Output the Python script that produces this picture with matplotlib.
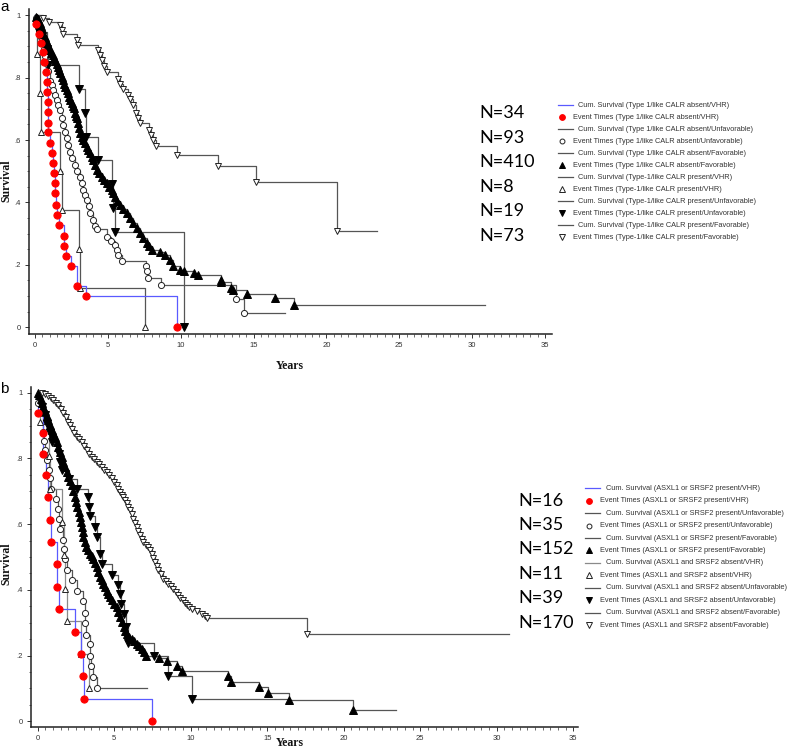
import matplotlib
matplotlib.use("Agg")
import matplotlib.pyplot as plt
from matplotlib.ticker import MultipleLocator, FuncFormatter

# ---------------- data ----------------
# panel a: Type 1/like CALR groups
a_groups = ["Type 1/like CALR absent/VHR", "Type 1/like CALR absent/Unfavorable",
            "Type 1/like CALR absent/Favorable", "Type-1/like CALR present/VHR",
            "Type-1/like CALR present/Unfavorable", "Type-1/like CALR present/Favorable"]
a_n = [34, 93, 410, 8, 19, 73]

a1_t = [0.07, 0.27, 0.43, 0.53, 0.59, 0.73, 0.80, 0.85, 0.87, 0.92, 0.92, 0.92, 1.01, 1.14,
        1.21, 1.30, 1.37, 1.37, 1.46, 1.53, 1.67, 2.01, 2.01, 2.15, 2.47, 2.88, 3.50, 9.73]
a1_s = [0.971, 0.941, 0.912, 0.883, 0.851, 0.819, 0.786, 0.755, 0.721, 0.689, 0.656, 0.625,
        0.592, 0.558, 0.526, 0.494, 0.462, 0.430, 0.392, 0.360, 0.327, 0.294, 0.262, 0.229,
        0.197, 0.133, 0.100, 0.0]
a1_end = 9.73

a2_t = [0.05, 0.15, 0.30, 0.40, 0.53, 0.60, 0.70, 0.80, 0.90, 1.03,
        1.15, 1.26, 1.38, 1.49, 1.60, 1.72, 1.83, 1.95, 2.06, 2.17,
        2.28, 2.40, 2.55, 2.75, 2.90, 3.09, 3.20, 3.32, 3.45, 3.55,
        3.68, 3.78, 3.95, 4.12, 4.23, 4.97, 5.20, 5.49, 5.60, 5.72,
        6.00, 7.60, 7.67, 7.78, 8.65, 13.78, 14.35]
a2_s = [0.990, 0.970, 0.950, 0.930, 0.910, 0.890, 0.870, 0.845, 0.820, 0.790,
        0.775, 0.760, 0.745, 0.728, 0.712, 0.696, 0.672, 0.648, 0.627, 0.606,
        0.585, 0.563, 0.541, 0.520, 0.500, 0.483, 0.462, 0.440, 0.424, 0.408,
        0.387, 0.366, 0.345, 0.323, 0.315, 0.289, 0.276, 0.264, 0.248, 0.232,
        0.211, 0.195, 0.179, 0.158, 0.136, 0.091, 0.046]
a2_end = 17.16

a3_t = [0.05, 0.12, 0.18, 0.23, 0.32, 0.40, 0.48, 0.57, 0.66, 0.75,
        0.85, 0.94, 1.03, 1.12, 1.22, 1.31, 1.40, 1.49, 1.58, 1.66,
        1.75, 1.83, 1.92, 2.00, 2.09, 2.17, 2.26, 2.35, 2.43, 2.52,
        2.60, 2.68, 2.75, 2.82, 2.90, 2.97, 3.03, 3.09, 3.20, 3.32,
        3.44, 3.55, 3.66, 3.78, 3.89, 4.00, 4.12, 4.23, 4.40, 4.58,
        4.75, 4.92, 5.09, 5.26, 5.38, 5.49, 5.66, 5.84, 6.06, 6.29,
        6.52, 6.75, 6.98, 7.21, 7.44, 7.67, 7.84, 8.00,
        8.58, 8.92, 9.27, 9.49, 9.95, 10.23, 10.94, 11.21, 12.77, 12.80,
        13.45, 13.61, 14.57, 16.47, 17.78]
a3_s = [0.995, 0.990, 0.987, 0.984, 0.975, 0.966, 0.955, 0.941, 0.930, 0.920,
        0.910, 0.899, 0.888, 0.879, 0.871, 0.862, 0.853, 0.845, 0.835, 0.824,
        0.814, 0.803, 0.792, 0.781, 0.771, 0.760, 0.749, 0.738, 0.728, 0.717,
        0.709, 0.701, 0.686, 0.678, 0.670, 0.654, 0.638, 0.622, 0.611, 0.600,
        0.590, 0.579, 0.568, 0.558, 0.547, 0.536, 0.520, 0.504, 0.494, 0.483,
        0.472, 0.462, 0.451, 0.440, 0.430, 0.419, 0.406, 0.392, 0.379, 0.366,
        0.350, 0.334, 0.318, 0.302, 0.286, 0.270, 0.259, 0.248,
        0.241, 0.232, 0.216, 0.195, 0.185, 0.179, 0.174, 0.166, 0.152, 0.146,
        0.126, 0.121, 0.108, 0.095, 0.073]
a3_end = 30.9

a4_t = [0.11, 0.34, 0.39, 1.72, 1.83, 3.04, 3.09, 7.55]
a4_s = [0.875, 0.750, 0.625, 0.500, 0.375, 0.250, 0.125, 0.0]
a4_end = 7.55

a5_t = [0.25, 0.80, 0.92, 3.02, 3.43, 3.48, 4.35, 5.26, 5.38, 5.49, 10.20]
a5_s = [0.947, 0.893, 0.840, 0.762, 0.688, 0.611, 0.535, 0.458, 0.382, 0.306, 0.0]
a5_end = 10.20

a6_t = [0.55, 0.98, 1.72, 1.83, 1.95, 2.86, 2.97, 4.35, 4.46, 4.58,
        4.75, 4.92, 5.72, 5.84, 6.02, 6.41, 6.52, 6.75, 6.93, 7.09,
        7.21, 7.83, 7.94, 8.12, 8.28, 9.73, 12.59, 15.17, 20.71]
a6_s = [0.990, 0.979, 0.968, 0.952, 0.941, 0.920, 0.904, 0.888, 0.872, 0.856,
        0.838, 0.819, 0.797, 0.781, 0.765, 0.744, 0.730, 0.712, 0.686, 0.670,
        0.654, 0.632, 0.616, 0.600, 0.582, 0.552, 0.517, 0.467, 0.310]
a6_end = 23.5

# panel b: ASXL1 / SRSF2 groups
b_groups = ["ASXL1 or SRSF2 present/VHR", "ASXL1 or SRSF2 present/Unfavorable",
            "ASXL1 or SRSF2 present/Favorable", "ASXL1 and SRSF2 absent/VHR",
            "ASXL1 and SRSF2 absent/Unfavorable", "ASXL1 and SRSF2 absent/Favorable"]
b_n = [16, 35, 152, 11, 39, 170]

b1_t = [0.04, 0.37, 0.37, 0.54, 0.70, 0.81, 0.85, 1.24, 1.29, 1.39, 2.44, 2.81, 2.98, 3.05, 7.49]
b1_s = [0.939, 0.876, 0.813, 0.749, 0.683, 0.614, 0.546, 0.480, 0.409, 0.342, 0.271, 0.205,
        0.137, 0.068, 0.0]
b1_end = 7.49

b2_t = [0.02, 0.26, 0.37, 0.41, 0.48, 0.59, 0.76, 0.81, 0.87, 1.18,
        1.31, 1.42, 1.46, 1.68, 1.74, 1.79, 1.90, 2.22, 2.59, 2.98,
        3.09, 3.10, 3.14, 3.40, 3.42, 3.45, 3.64, 3.86]
b2_s = [0.970, 0.937, 0.881, 0.854, 0.825, 0.795, 0.766, 0.739, 0.708, 0.678,
        0.647, 0.617, 0.586, 0.553, 0.525, 0.495, 0.461, 0.431, 0.398, 0.366,
        0.330, 0.300, 0.264, 0.234, 0.198, 0.167, 0.134, 0.101]
b2_end = 7.12

b3_t = [0.05, 0.11, 0.20, 0.28, 0.37, 0.48, 0.59, 0.70, 0.81, 0.92,
        1.02, 1.13, 1.24, 1.35, 1.46, 1.57, 1.68, 1.79, 1.90, 2.00,
        2.11, 2.22, 2.33, 2.44, 2.52, 2.59, 2.68, 2.77, 2.83, 2.88,
        2.93, 2.98, 3.07, 3.16, 3.29, 3.42, 3.53, 3.64, 3.75, 3.86,
        3.97, 4.07, 4.18, 4.29, 4.40, 4.51, 4.62, 4.73, 4.84, 5.00,
        5.16, 5.27, 5.38, 5.51, 5.64, 5.73, 5.82, 5.98, 6.14, 6.30,
        6.47, 6.63, 6.80, 6.93, 7.06,
        7.95, 8.43, 9.08, 9.41, 12.46, 12.64, 14.49, 15.08, 16.45, 20.63]
b3_s = [0.998, 0.993, 0.981, 0.969, 0.957, 0.944, 0.930, 0.917, 0.901, 0.886,
        0.876, 0.866, 0.851, 0.835, 0.820, 0.805, 0.790, 0.774, 0.759, 0.744,
        0.731, 0.718, 0.700, 0.683, 0.668, 0.652, 0.637, 0.622, 0.606, 0.591,
        0.576, 0.561, 0.545, 0.530, 0.520, 0.510, 0.503, 0.495, 0.482, 0.470,
        0.454, 0.439, 0.429, 0.419, 0.408, 0.398, 0.388, 0.378, 0.368, 0.358,
        0.348, 0.332, 0.317, 0.302, 0.287, 0.276, 0.266, 0.258, 0.251, 0.243,
        0.236, 0.228, 0.221, 0.210, 0.200,
        0.193, 0.182, 0.167, 0.154, 0.139, 0.119, 0.104, 0.086, 0.065, 0.033]
b3_end = 23.4

b4_t = [0.15, 0.76, 0.81, 1.57, 1.74, 1.79, 1.90, 2.83, 3.38]
b4_s = [0.912, 0.807, 0.708, 0.607, 0.505, 0.403, 0.305, 0.205, 0.102]
b4_end = 3.38

b5_t = [0.26, 0.48, 0.59, 0.81, 0.92, 1.42, 1.46, 1.57, 2.05, 2.55,
        3.31, 3.38, 3.42, 3.75, 3.86, 4.07, 4.18, 4.88, 5.27, 5.38,
        5.45, 5.64, 5.77, 5.88, 7.63, 8.54, 10.10]
b5_s = [0.957, 0.932, 0.906, 0.876, 0.851, 0.815, 0.790, 0.766, 0.737, 0.708,
        0.683, 0.652, 0.624, 0.591, 0.561, 0.510, 0.480, 0.444, 0.414, 0.386,
        0.358, 0.327, 0.287, 0.238, 0.200, 0.137, 0.068]
b5_end = 16.5

b6_t = [0.30, 0.50, 0.70, 0.86, 1.02, 1.18, 1.35, 1.52, 1.68, 1.84,
        2.00, 2.11, 2.22, 2.38, 2.55, 2.72, 2.88, 3.04, 3.20, 3.36,
        3.53, 3.70, 3.86, 4.02, 4.18, 4.34, 4.51, 4.68, 4.84, 5.00,
        5.16, 5.27, 5.38, 5.49, 5.60, 5.71, 5.82, 5.93, 6.03, 6.14,
        6.25, 6.36, 6.47, 6.58, 6.69, 6.80, 6.91, 7.07, 7.23, 7.34,
        7.45, 7.56, 7.67, 7.78, 7.89, 8.05, 8.21, 8.37, 8.54, 8.70,
        8.87, 9.03, 9.19, 9.33, 9.48, 9.61, 9.74, 9.90, 10.07, 10.40,
        10.72, 10.90, 11.09, 17.63]
b6_s = [0.998, 0.996, 0.990, 0.984, 0.978, 0.970, 0.962, 0.950, 0.937, 0.925,
        0.912, 0.902, 0.891, 0.878, 0.866, 0.858, 0.851, 0.838, 0.825, 0.815,
        0.805, 0.797, 0.790, 0.782, 0.774, 0.766, 0.759, 0.749, 0.739, 0.728,
        0.718, 0.708, 0.698, 0.690, 0.683, 0.673, 0.663, 0.652, 0.642, 0.630,
        0.617, 0.604, 0.591, 0.579, 0.566, 0.556, 0.546, 0.538, 0.530, 0.520,
        0.510, 0.497, 0.485, 0.472, 0.459, 0.447, 0.434, 0.427, 0.419, 0.411,
        0.403, 0.393, 0.383, 0.375, 0.368, 0.360, 0.353, 0.348, 0.342, 0.335,
        0.327, 0.321, 0.315, 0.266]
b6_end = 30.8

# ---------------- styles ----------------
BLUE = "#5a5aff"
LINE = "#555555"
# (line colour, marker, face colour, edge colour, marker size)
styles_a = [(BLUE, "o", "#ff0000", "#ff0000", 5.2),
            (LINE, "o", "white", "#222222", 4.4),
            (LINE, "^", "black", "black", 5.2),
            (LINE, "^", "white", "#222222", 5.0),
            (LINE, "v", "black", "black", 5.2),
            (LINE, "v", "white", "#222222", 5.0)]
styles_b = [(BLUE, "o", "#ff0000", "#ff0000", 5.2),
            (LINE, "o", "white", "#222222", 4.4),
            (LINE, "^", "black", "black", 5.2),
            ("#8a8a8a", "^", "white", "#222222", 5.0),
            (LINE, "v", "black", "black", 5.2),
            (LINE, "v", "white", "#222222", 5.0)]

W, H = 799, 748
fig = plt.figure(figsize=(W / 100, H / 100), dpi=100)


def px_axes(left, top, right, bottom):
    return fig.add_axes([left / W, 1 - bottom / H, (right - left) / W, (bottom - top) / H])


def km(ax, t, s, end, style, z):
    color, marker, fc, ec, ms = style
    x = [0] + list(t) + [end]
    y = [1] + list(s) + [s[-1]]
    ax.plot(x, y, drawstyle="steps-post", color=color, lw=0.9, zorder=z)
    ax.plot(t, s, ls="none", marker=marker, mfc=fc, mec=ec, ms=ms, mew=0.7, zorder=z + 10)


def style_axes(ax, xlim, ylim):
    ax.set_xlim(*xlim)
    ax.set_ylim(*ylim)
    for sp in ["top", "right"]:
        ax.spines[sp].set_visible(False)
    for sp in ["left", "bottom"]:
        ax.spines[sp].set_linewidth(1.1)
        ax.spines[sp].set_color("#222222")
    ax.xaxis.set_major_locator(MultipleLocator(5))
    ax.xaxis.set_minor_locator(MultipleLocator(0.5))
    ax.yaxis.set_major_locator(MultipleLocator(0.2))
    ax.yaxis.set_minor_locator(MultipleLocator(0.05))
    ax.yaxis.set_major_formatter(FuncFormatter(
        lambda v, p: "0" if abs(v) < 1e-9 else ("1" if abs(v - 1) < 1e-9 else ("%.1f" % v)[1:])))
    ax.tick_params(which="major", length=3, width=0.7, direction="out", pad=3,
                   labelsize=5.5, labelcolor="#333333", color="#333333")
    ax.tick_params(which="minor", length=1.8, width=0.5, direction="out", color="#333333")
    for lab in ax.get_xticklabels() + ax.get_yticklabels():
        lab.set_family("Liberation Sans")


ax_a = px_axes(29, 8.75, 551.7, 333.7)
ax_b = px_axes(31, 387.3, 578.3, 726.7)
style_axes(ax_a, (-0.41, 35.46), (-0.0205, 1.0205))
style_axes(ax_b, (-0.44, 35.33), (-0.0165, 1.0165))

a_data = [(a1_t, a1_s, a1_end), (a2_t, a2_s, a2_end), (a3_t, a3_s, a3_end),
          (a4_t, a4_s, a4_end), (a5_t, a5_s, a5_end), (a6_t, a6_s, a6_end)]
b_data = [(b1_t, b1_s, b1_end), (b2_t, b2_s, b2_end), (b3_t, b3_s, b3_end),
          (b4_t, b4_s, b4_end), (b5_t, b5_s, b5_end), (b6_t, b6_s, b6_end)]

zs = [6, 1, 2, 3, 4, 5]
for (t, s, e), st, z in zip(a_data, styles_a, zs):
    km(ax_a, t, s, e, st, z)
for (t, s, e), st, z in zip(b_data, styles_b, zs):
    km(ax_b, t, s, e, st, z)

# ---------------- overlay for texts and hand-made legends ----------------
ov = fig.add_axes([0, 0, 1, 1])
ov.set_xlim(0, W)
ov.set_ylim(H, 0)
ov.axis("off")

serif = dict(family="Liberation Serif", weight="bold", size=8.5, color="#111111")
ov.text(6, 181, "Survival", rotation=90, ha="center", va="center", **serif)
ov.text(290, 366, "Years", ha="center", va="center", **serif)
ov.text(6, 564, "Survival", rotation=90, ha="center", va="center", **serif)
ov.text(290, 743, "Years", ha="center", va="center", **serif)

ov.text(0.5, 11, "a", family="Liberation Sans", size=11, va="baseline", ha="left")
ov.text(0.5, 393, "b", family="Liberation Sans", size=11, va="baseline", ha="left")


def n_labels(ns, x, y0, step):
    for i, n in enumerate(ns):
        ov.text(x, y0 + i * step, "N=%d" % n, family="Lato", size=13,
                ha="left", va="center", color="black")


n_labels(a_n, 479, 113, 24.5)
n_labels(b_n, 518, 500.7, 24.4)


def legend(groups, styles, x_line, x_ctext, x_mark, x_etext, y0, step):
    for i, (g, st) in enumerate(zip(groups, styles)):
        color, marker, fc, ec, ms = st
        y1 = y0 + 2 * i * step
        y2 = y1 + step
        ov.plot(x_line, [y1, y1], color=color, lw=0.9)
        ov.text(x_ctext, y1, "Cum. Survival (%s)" % g, family="Liberation Sans", size=5.3,
                color="#333333", ha="left", va="center")
        ov.plot([x_mark], [y2], ls="none", marker=marker, mfc=fc, mec=ec, ms=ms * 0.8, mew=0.7)
        ov.text(x_etext, y2, "Event Times (%s)" % g, family="Liberation Sans", size=5.3,
                color="#333333", ha="left", va="center")


legend(a_groups, styles_a, [558, 572.5], 578.3, 562, 572.7, 105, 12.0)
legend(b_groups, styles_b, [585, 599.5], 606, 589, 600, 488.3, 12.43)

fig.savefig("out.png", dpi=100)
